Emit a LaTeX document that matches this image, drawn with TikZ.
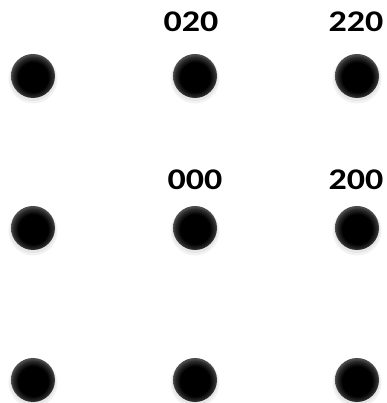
\documentclass[tikz,border=0pt]{standalone}
\usepackage{fontspec}
\setmainfont{Carlito}
\usetikzlibrary{positioning}
\pgfdeclareradialshading{dotshade}{\pgfpoint{0bp}{-2bp}}{%
  color(0bp)=(black); color(17bp)=(black); color(23bp)=(black!82);
  color(25bp)=(black!70); color(50bp)=(black!70)}
\tikzset{
  site/.style={circle,minimum size=44pt,inner sep=0pt,shading=dotshade},
  glow/.style={fill=black,opacity=0.05},
  lbl/.style={font=\fontsize{30}{30}\selectfont\bfseries,xscale=1.2,inner sep=0pt}
}

\begin{document}
\begin{tikzpicture}[x=1pt,y=1pt]
\useasboundingbox (0,0) rectangle (386,403);
% lattice points
\foreach \c/\x in {0/33,1/195,2/357}{
  \foreach \r/\y in {0/23,1/175,2/327}{
    \fill[glow] (\x,\y-3) circle (24.5);
    \fill[glow] (\x,\y-2) circle (23);
    \node[site] (d\c\r) at (\x,\y) {};
  }
}
% indices
\foreach \t/\x/\y in {020/191/381,220/356/381,000/195/223,200/356/223}
  \node[lbl] (l\t) at (\x,\y) {\t};
\end{tikzpicture}
\end{document}
